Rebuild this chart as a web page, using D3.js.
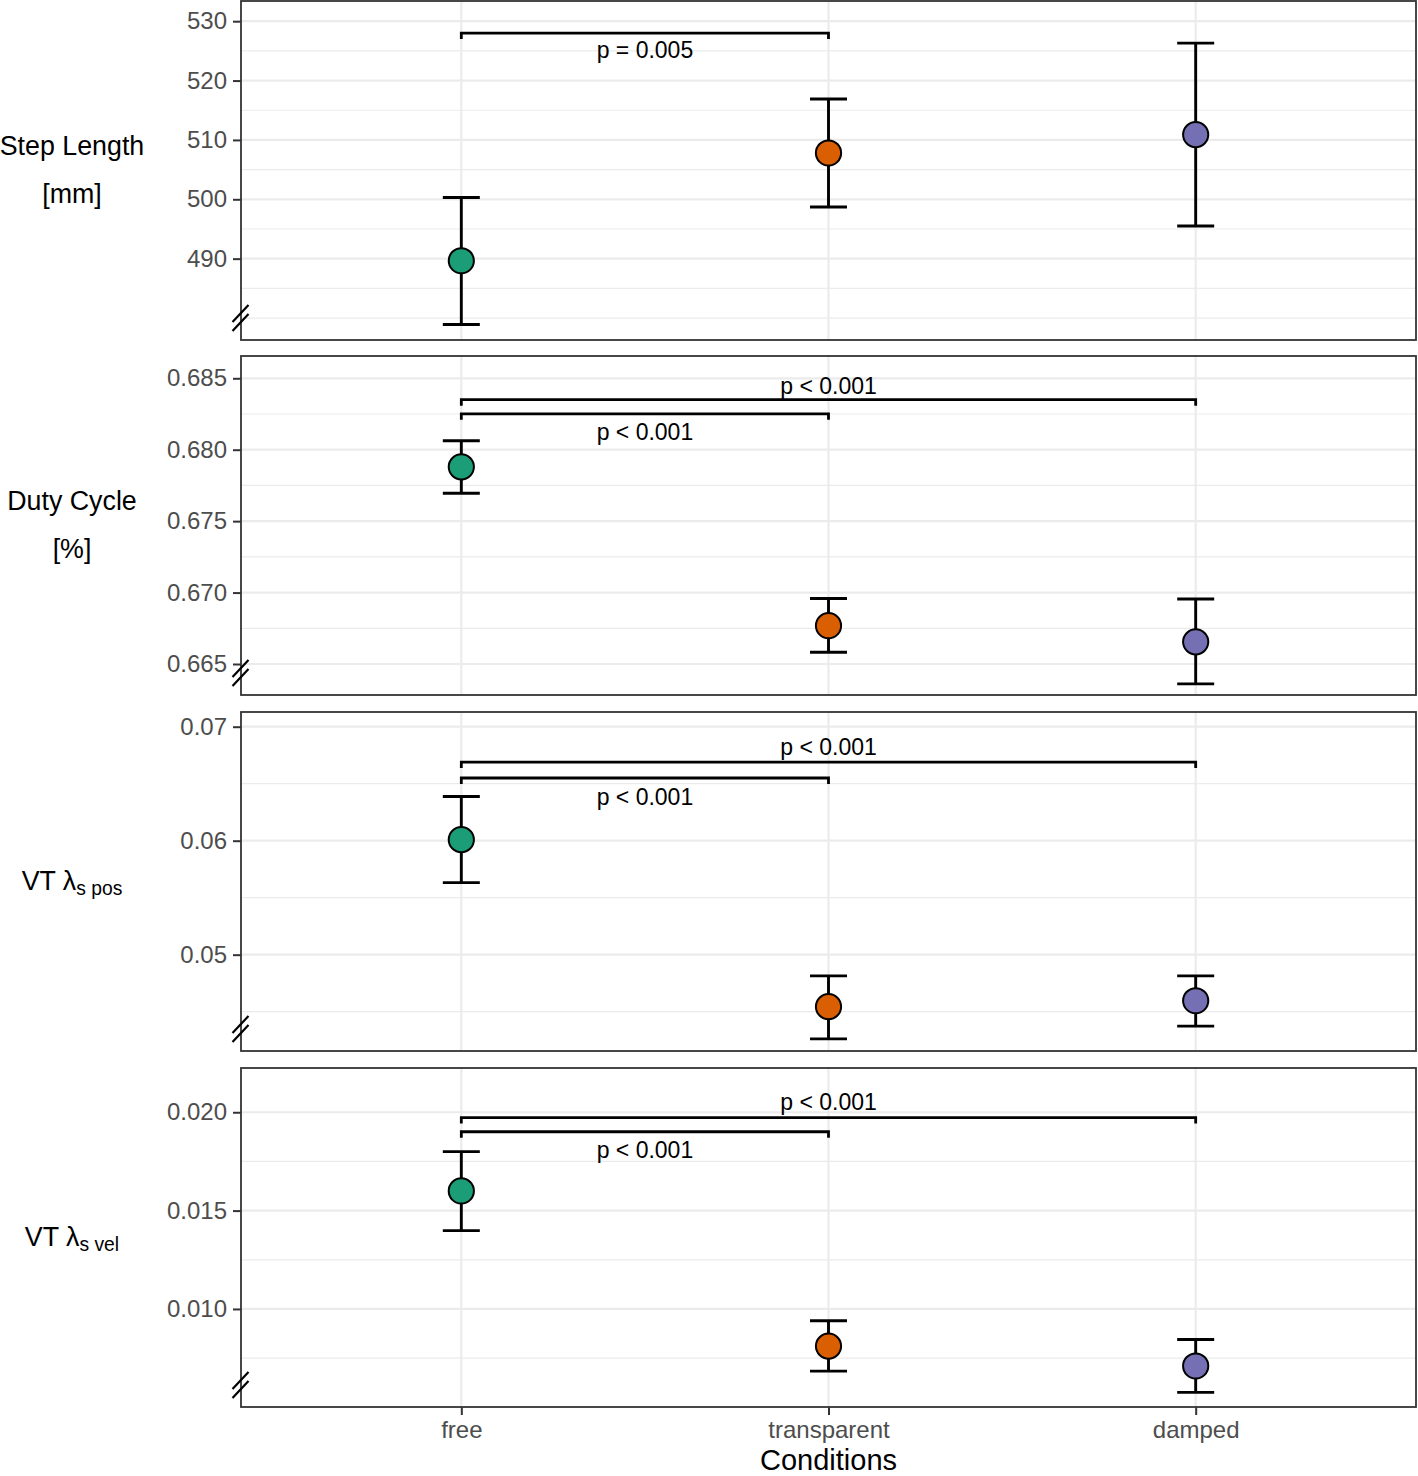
<!DOCTYPE html>
<html>
<head>
<meta charset="utf-8">
<script src="https://cdn.jsdelivr.net/npm/d3@7"></script>
<style>
  html, body { margin: 0; padding: 0; background: #ffffff; }
  svg { display: block; }
  text { font-family: "Liberation Sans", Arial, Helvetica, sans-serif; }
</style>
</head>
<body>
<script>
// ---------------- DATA ----------------
const conditions = ["free", "transparent", "damped"];
const conditionColors = ["#1b9e77", "#d95f02", "#7570b3"];

// Step Length [mm]
const stepMean = [489.65, 507.8, 510.9];
const stepLow  = [478.9, 498.7, 495.5];
const stepHigh = [500.3, 516.9, 526.3];
const stepDomain = [476.3, 533.4];
const stepTicks = [490, 500, 510, 520, 530];
const stepMinor = [480, 485, 495, 505, 515, 525];
const stepTickLabels = ["490", "500", "510", "520", "530"];
const stepBrackets = [{ pair: [0, 1], y: 528, label: "p = 0.005", labelY: 525.2 }];

// Duty Cycle [%]
const dutyMean = [0.6788, 0.66768, 0.66655];
const dutyLow  = [0.67695, 0.66582, 0.66361];
const dutyHigh = [0.68063, 0.66959, 0.66955];
const dutyDomain = [0.66283, 0.68656];
const dutyTicks = [0.665, 0.670, 0.675, 0.680, 0.685];
const dutyMinor = [0.6675, 0.6725, 0.6775, 0.6825];
const dutyTickLabels = ["0.665", "0.670", "0.675", "0.680", "0.685"];
const dutyBrackets = [
  { pair: [0, 2], y: 0.6835, label: "p < 0.001", labelY: 0.68446 },
  { pair: [0, 1], y: 0.68251, label: "p < 0.001", labelY: 0.68124 }
];

// VT lambda s pos
const posMean = [0.06009, 0.04544, 0.04596];
const posLow  = [0.05632, 0.04261, 0.04373];
const posHigh = [0.06388, 0.04814, 0.04814];
const posDomain = [0.04155, 0.07129];
const posTicks = [0.05, 0.06, 0.07];
const posMinor = [0.045, 0.055, 0.065];
const posTickLabels = ["0.05", "0.06", "0.07"];
const posBrackets = [
  { pair: [0, 2], y: 0.0669, label: "p < 0.001", labelY: 0.06822 },
  { pair: [0, 1], y: 0.0655, label: "p < 0.001", labelY: 0.06383 }
];

// VT lambda s vel
const velMean = [0.0160, 0.00811, 0.00710];
const velLow  = [0.01398, 0.00684, 0.00576];
const velHigh = [0.0180, 0.0094, 0.00845];
const velDomain = [0.005015, 0.02225];
const velTicks = [0.010, 0.015, 0.020];
const velMinor = [0.0075, 0.0125, 0.0175];
const velTickLabels = ["0.010", "0.015", "0.020"];
const velBrackets = [
  { pair: [0, 2], y: 0.01973, label: "p < 0.001", labelY: 0.02051 },
  { pair: [0, 1], y: 0.01901, label: "p < 0.001", labelY: 0.01808 }
];

const xAxisTitle = "Conditions";

// ---------------- LAYOUT ----------------
const W = 1418, H = 1476;
const plotLeft = 241, plotRight = 1416;
const panelTops = [1, 356, 712, 1068];
const panelH = 339;
const tickFont = 24, titleFont = 26.8, xTitleFont = 29, pFont = 23;

const svg = d3.select("body").append("svg").attr("width", W).attr("height", H);

const x = d3.scalePoint().domain(conditions).range([plotLeft, plotRight]).padding(0.6);

const panels = [
  { mean: stepMean, low: stepLow, high: stepHigh, domain: stepDomain, ticks: stepTicks, minor: stepMinor, labels: stepTickLabels, brackets: stepBrackets, title: ["Step Length", "[mm]"] },
  { mean: dutyMean, low: dutyLow, high: dutyHigh, domain: dutyDomain, ticks: dutyTicks, minor: dutyMinor, labels: dutyTickLabels, brackets: dutyBrackets, title: ["Duty Cycle", "[%]"] },
  { mean: posMean, low: posLow, high: posHigh, domain: posDomain, ticks: posTicks, minor: posMinor, labels: posTickLabels, brackets: posBrackets, lambda: "s pos" },
  { mean: velMean, low: velLow, high: velHigh, domain: velDomain, ticks: velTicks, minor: velMinor, labels: velTickLabels, brackets: velBrackets, lambda: "s vel" }
];

panels.forEach((p, i) => {
  const top = panelTops[i], bottom = top + panelH;
  const y = d3.scaleLinear().domain(p.domain).range([bottom, top]);
  const g = svg.append("g");

  // minor gridlines
  g.selectAll("line.minor").data(p.minor).join("line")
    .attr("x1", plotLeft).attr("x2", plotRight)
    .attr("y1", d => y(d)).attr("y2", d => y(d))
    .attr("stroke", "#ebebeb").attr("stroke-width", 1.2);
  // major gridlines
  g.selectAll("line.major").data(p.ticks).join("line")
    .attr("x1", plotLeft).attr("x2", plotRight)
    .attr("y1", d => y(d)).attr("y2", d => y(d))
    .attr("stroke", "#ebebeb").attr("stroke-width", 2.2);
  // vertical gridlines
  g.selectAll("line.vgrid").data(conditions).join("line")
    .attr("x1", d => x(d)).attr("x2", d => x(d))
    .attr("y1", top).attr("y2", bottom)
    .attr("stroke", "#ebebeb").attr("stroke-width", 2.2);

  // y axis
  const yAxis = d3.axisLeft(y).tickValues(p.ticks)
    .tickFormat((d, k) => p.labels[k]).tickSize(8).tickPadding(6);
  const ag = g.append("g").attr("transform", `translate(${plotLeft},0)`).call(yAxis);
  ag.select(".domain").remove();
  ag.selectAll(".tick line").attr("stroke", "#333333").attr("stroke-width", 2);
  ag.selectAll(".tick text").attr("fill", "#4d4d4d").attr("font-size", tickFont)
    .attr("font-family", '"Liberation Sans", Arial, sans-serif');

  // panel border
  g.append("rect").attr("x", plotLeft).attr("y", top)
    .attr("width", plotRight - plotLeft).attr("height", panelH)
    .attr("fill", "none").attr("stroke", "#333333").attr("stroke-width", 1.8);

  // axis break marks
  [[-18, -35], [-9, -26]].forEach(o => {
    g.append("line")
      .attr("x1", plotLeft - 8.5).attr("y1", bottom + o[0])
      .attr("x2", plotLeft + 7.5).attr("y2", bottom + o[1])
      .attr("stroke", "#000").attr("stroke-width", 2.2);
  });

  // significance brackets
  const tip = 6;
  p.brackets.forEach(b => {
    const x1 = x(conditions[b.pair[0]]), x2 = x(conditions[b.pair[1]]);
    const yy = y(b.y);
    g.append("path")
      .attr("d", `M${x1},${yy + tip}V${yy}H${x2}V${yy + tip}`)
      .attr("fill", "none").attr("stroke", "#000").attr("stroke-width", 2.8);
    g.append("text")
      .attr("x", (x1 + x2) / 2).attr("y", y(b.labelY))
      .attr("text-anchor", "middle").attr("dominant-baseline", "central")
      .attr("font-size", pFont).attr("fill", "#000").text(b.label);
  });

  // error bars
  const capHalf = 18.5;
  conditions.forEach((c, k) => {
    const cx = x(c);
    g.append("line").attr("x1", cx).attr("x2", cx)
      .attr("y1", y(p.low[k])).attr("y2", y(p.high[k]))
      .attr("stroke", "#000").attr("stroke-width", 2.9);
    [p.low[k], p.high[k]].forEach(v => {
      g.append("line").attr("x1", cx - capHalf).attr("x2", cx + capHalf)
        .attr("y1", y(v)).attr("y2", y(v))
        .attr("stroke", "#000").attr("stroke-width", 2.9);
    });
  });
  // points
  g.selectAll("circle.pt").data(p.mean).join("circle")
    .attr("cx", (d, k) => x(conditions[k])).attr("cy", d => y(d))
    .attr("r", 12.6)
    .attr("fill", (d, k) => conditionColors[k])
    .attr("stroke", "#000").attr("stroke-width", 2);

  // y axis title
  const cy = top + panelH / 2;
  if (p.title) {
    g.append("text").attr("x", 72).attr("y", cy - 25)
      .attr("text-anchor", "middle").attr("dominant-baseline", "central")
      .attr("font-size", titleFont).attr("fill", "#000").text(p.title[0]);
    g.append("text").attr("x", 72).attr("y", cy + 23)
      .attr("text-anchor", "middle").attr("dominant-baseline", "central")
      .attr("font-size", titleFont).attr("fill", "#000").text(p.title[1]);
  } else {
    const t = g.append("text").attr("x", 72).attr("y", cy + 8)
      .attr("text-anchor", "middle")
      .attr("font-size", titleFont).attr("fill", "#000");
    t.append("tspan").text("VT \u03BB");
    t.append("tspan").attr("font-size", titleFont * 0.72).attr("dy", 5).text(p.lambda);
  }
});

// x axis (bottom of last panel)
const lastBottom = panelTops[3] + panelH;
const xAxis = d3.axisBottom(x).tickSize(8).tickPadding(6);
const xg = svg.append("g").attr("transform", `translate(0,${lastBottom})`).call(xAxis);
xg.select(".domain").remove();
xg.selectAll(".tick line").attr("stroke", "#333333").attr("stroke-width", 2);
xg.selectAll(".tick text").attr("fill", "#4d4d4d").attr("font-size", tickFont)
  .attr("font-family", '"Liberation Sans", Arial, sans-serif');

svg.append("text").attr("x", (plotLeft + plotRight) / 2).attr("y", 1470)
  .attr("text-anchor", "middle")
  .attr("font-size", xTitleFont).attr("fill", "#000").text(xAxisTitle);
</script>
</body>
</html>
